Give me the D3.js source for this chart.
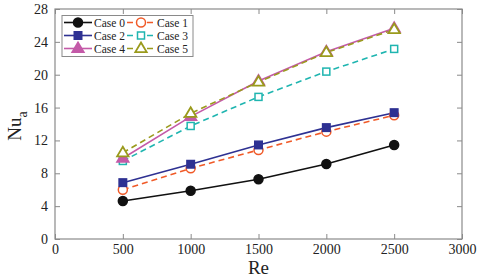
<!DOCTYPE html>
<html><head><meta charset="utf-8">
<script src="https://cdn.jsdelivr.net/npm/d3@7/dist/d3.min.js"></script>
<style>body{margin:0;background:#fff}svg{display:block}text{font-family:'Liberation Serif','Times New Roman','DejaVu Serif',serif}</style>
</head><body>
<script>
const reValues = [500, 1000, 1500, 2000, 2500];
const case0 = [4.63, 5.88, 7.27, 9.13, 11.45];
const case1 = [6.0, 8.6, 10.84, 13.07, 15.06];
const case2 = [6.86, 9.1, 11.45, 13.56, 15.38];
const case3 = [9.5, 13.76, 17.3, 20.38, 23.14];
const case4 = [9.83, 14.9, 19.24, 22.8, 25.66];
const case5 = [10.5, 15.3, 19.1, 22.7, 25.5];
const seriesNames = ["Case 0", "Case 1", "Case 2", "Case 3", "Case 4", "Case 5"];
const xTicks = [0, 500, 1000, 1500, 2000, 2500, 3000];
const yTicks = [0, 4, 8, 12, 16, 20, 24, 28];

const W = 480, H = 280;
const m = {l: 55, r: 18, t: 9, b: 41};
const svg = d3.select("body").append("svg").attr("width", W).attr("height", H);
const x = d3.scaleLinear().domain([0, 3000]).range([m.l, W - m.r]);
const y = d3.scaleLinear().domain([0, 28]).range([H - m.b, m.t]);
const font = "'Liberation Serif', 'Times New Roman', 'DejaVu Serif', serif";
const axisColor = "#8a8a8a";

const styles = [
  {color: "#111111", dash: null, shape: "circle", fill: true},
  {color: "#f05a28", dash: "6,4", shape: "circle", fill: false},
  {color: "#2e3192", dash: null, shape: "square", fill: true},
  {color: "#1fb5b0", dash: "6,4", shape: "square", fill: false},
  {color: "#c45aa8", dash: null, shape: "triangle", fill: true},
  {color: "#9a9a1c", dash: "6,4", shape: "triangle", fill: false}
];
const data = [case0, case1, case2, case3, case4, case5];

const g = svg.append("g");
const xAxisB = d3.axisBottom(x).tickValues(xTicks).tickSize(-5).tickPadding(5).tickFormat(d3.format("d"));
const xAxisT = d3.axisTop(x).tickValues(xTicks).tickSize(-5).tickFormat("");
const yAxisL = d3.axisLeft(y).tickValues(yTicks).tickSize(-5).tickPadding(7).tickFormat(d3.format("d"));
const yAxisR = d3.axisRight(y).tickValues(yTicks).tickSize(-5).tickFormat("");
function styleAxis(sel){
  sel.attr("font-family", font);
  sel.selectAll("line").attr("stroke", axisColor);
  sel.selectAll("text").attr("font-family", font).attr("font-size", 14).attr("fill", "#222");
}
g.append("g").attr("transform", `translate(0,${H - m.b})`).call(xAxisB).call(styleAxis);
g.append("g").attr("transform", `translate(0,${m.t})`).call(xAxisT).call(styleAxis);
g.append("g").attr("transform", `translate(${m.l},0)`).call(yAxisL).call(styleAxis);
g.append("g").attr("transform", `translate(${W - m.r},0)`).call(yAxisR).call(styleAxis);
g.selectAll(".domain").remove();

svg.append("rect").attr("x", m.l).attr("y", m.t).attr("width", W - m.r - m.l).attr("height", H - m.b - m.t)
  .attr("fill", "none").attr("stroke", axisColor).attr("stroke-width", 1.2);

svg.append("text").attr("x", (m.l + W - m.r) / 2).attr("y", 274).attr("text-anchor", "middle")
  .attr("font-family", font).attr("font-size", 19).attr("fill", "#222").text("Re");
const yl = svg.append("text").attr("transform", `translate(21,126) rotate(-90)`).attr("text-anchor", "middle")
  .attr("font-family", font).attr("font-size", 19).attr("fill", "#222");
yl.append("tspan").text("Nu");
yl.append("tspan").attr("font-size", 14).attr("dy", 6).text("a");

function drawMarker(sel, s, cx, cy){
  const fill = s.fill ? s.color : "#fff";
  if (s.shape === "circle") {
    sel.append("circle").attr("cx", cx).attr("cy", cy).attr("r", 4.5)
      .attr("fill", fill).attr("stroke", s.color).attr("stroke-width", 1.5);
  } else if (s.shape === "square") {
    const a = s.fill ? 7.5 : 7;
    sel.append("rect").attr("x", cx - a/2).attr("y", cy - a/2).attr("width", a).attr("height", a)
      .attr("fill", fill).attr("stroke", s.color).attr("stroke-width", 1.5);
  } else {
    const r = 6;
    sel.append("path").attr("d", `M${cx},${cy - r}L${cx + r*0.95},${cy + r*0.6}L${cx - r*0.95},${cy + r*0.6}Z`)
      .attr("fill", fill).attr("stroke", s.color).attr("stroke-width", 1.8);
  }
}

const line = d3.line().x((d, i) => x(reValues[i])).y(d => y(d));
data.forEach((vals, k) => {
  const s = styles[k];
  svg.append("path").datum(vals).attr("d", line).attr("fill", "none")
    .attr("stroke", s.color).attr("stroke-width", 1.6).attr("stroke-dasharray", s.dash);
});
data.forEach((vals, k) => {
  const s = styles[k];
  const mg = svg.append("g");
  vals.forEach((v, i) => drawMarker(mg, s, x(reValues[i]), y(v)));
});

const lg = svg.append("g");
lg.append("rect").attr("x", 62).attr("y", 15.5).attr("width", 131).attr("height", 41)
  .attr("fill", "#fff").attr("stroke", axisColor).attr("stroke-width", 1);
seriesNames.forEach((name, k) => {
  const s = styles[k];
  const col = k % 2, row = Math.floor(k / 2);
  const x0 = col === 0 ? 64 : 127;
  const yy = 22.5 + row * 13;
  lg.append("line").attr("x1", x0).attr("x2", x0 + 28).attr("y1", yy).attr("y2", yy)
    .attr("stroke", s.color).attr("stroke-width", 1.6).attr("stroke-dasharray", s.dash ? "6,4" : null);
  drawMarker(lg, s, x0 + 14, yy);
  lg.append("text").attr("x", x0 + 30).attr("y", yy + 4).attr("font-family", font).attr("font-size", 11.5)
    .attr("fill", "#222").text(name);
});
</script>
</body></html>
